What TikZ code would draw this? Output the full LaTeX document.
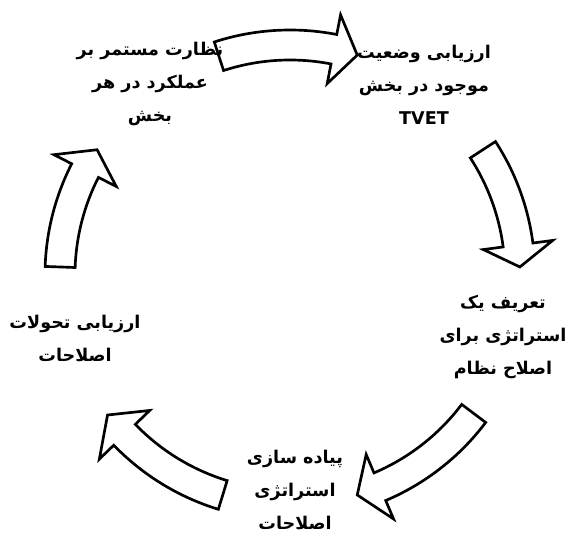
\documentclass[tikz,border=0pt]{standalone}
\usepackage{fontspec}
\newfontfamily\arabicfont[Script=Arabic]{DejaVu Sans}
\TeXXeTstate=1
\newcommand{\fa}[1]{\beginR #1\endR}
\newcommand{\cyclearrow}[3]{%
  \filldraw[blockarrow, shift={(c)}] (#1:215) arc[start angle=#1, end angle=#2, radius=215]
    -- (#2:195) -- (#3:230) -- (#2:265) -- (#2:245)
    arc[start angle=#2, end angle=#1, radius=245] -- cycle;}
\tikzset{stage/.style={align=center, inner sep=1pt, font=\arabicfont\bfseries\fontsize{12.5}{23.5}\selectfont},
         blockarrow/.style={draw, fill=white, line width=1.9pt, line join=miter},
        }

\begin{document}
\begin{tikzpicture}[x=0.025cm, y=0.025cm]
        \useasboundingbox (0,0) rectangle (566,535);
        \coordinate (c) at (290,260);

        \cyclearrow{108}{79}{73}
        \cyclearrow{33}{7.5}{2}
        \cyclearrow{-37}{-67}{-73}
        \cyclearrow{-107}{-136}{-142.5}
        \cyclearrow{178}{153}{147}

        \node[stage](assess)at(424,450){\fa{ارزیابی وضعیت}\\\fa{موجود در بخش}\\TVET};
        \node[stage](define)at(503,198){\fa{تعریف یک}\\\fa{استراتژی برای}\\\fa{اصلاح نظام}};
        \node[stage](implement)at(295,45){\fa{پیاده سازی}\\\fa{استراتژی}\\\fa{اصلاحات}};
        \node[stage](evaluate)at(75,197){\fa{ارزیابی تحولات}\\\fa{اصلاحات}};
        \node[stage](monitor)at(150,451){\fa{نظارت مستمر بر}\\\fa{عملکرد در هر}\\\fa{بخش}};
    \end{tikzpicture}
\end{document}
